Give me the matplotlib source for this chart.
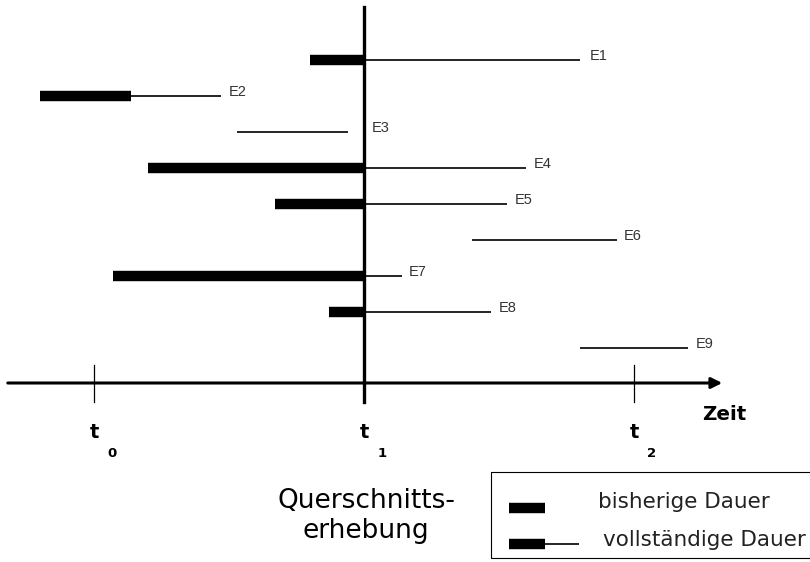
import matplotlib.pyplot as plt
from matplotlib.patches import Rectangle

# Episoden: Beginn, Ende der bisherigen Dauer (dicker Teil), Ende (Zeiteinheiten, t0=0, t1=1, t2=2)
episodes = ["E1", "E2", "E3", "E4", "E5", "E6", "E7", "E8", "E9"]
start = [0.80, -0.20, 0.53, 0.20, 0.67, 1.40, 0.07, 0.87, 1.80]
thick_end = [1.00, 0.137, None, 1.00, 1.00, None, 1.00, 1.00, None]
end = [1.80, 0.47, 0.94, 1.60, 1.53, 1.937, 1.14, 1.47, 2.20]
label_gap = [0.035, 0.03, 0.09, 0.03, 0.03, 0.025, 0.025, 0.03, 0.03]

time_points = [0, 1, 2]
time_labels = ["0", "1", "2"]


# Hilfsfunktionen: Pixelposition -> Datenkoordinaten (nur fürs Layout)
def X(px):
    return (px - 94) / 270


def Y(py):
    return (py - 60) / 36


fig = plt.figure(figsize=(8.1, 5.62), dpi=100)
ax = fig.add_axes([0, 0, 1, 1])
ax.set_xlim(X(0), X(810))
ax.set_ylim(Y(562), Y(0))
ax.axis("off")

axis_y = Y(383)

for i, name in enumerate(episodes):
    ax.plot([start[i], end[i]], [i, i], color="black", lw=1.2, solid_capstyle="butt")
    if thick_end[i] is not None:
        ax.plot([start[i], thick_end[i]], [i, i], color="black", lw=7.5, solid_capstyle="butt")
    ax.text(end[i] + label_gap[i], i - 0.1, name, fontsize=10.5, va="center", ha="left",
            family="Liberation Sans", color="#333333")

# Zeitachse mit Pfeil
ax.annotate("", xy=(X(725), axis_y), xytext=(X(5), axis_y),
            arrowprops=dict(arrowstyle="-|>", color="black", lw=2.2, mutation_scale=16))
# Querschnitt bei t1
ax.plot([1, 1], [Y(7), Y(402)], color="black", lw=2.4)
for t, lab in zip(time_points, time_labels):
    if t != 1:
        ax.plot([t, t], [Y(365), Y(402)], color="black", lw=0.9)
    ax.text(t, Y(438), "t", fontsize=14, fontweight="bold", ha="center", va="baseline")
    ax.text(t + 18 / 270, Y(457), lab, fontsize=9.5, fontweight="bold", ha="center",
            va="baseline")

ax.text(X(702), Y(420), "Zeit", fontsize=14.3, fontweight="bold", ha="left", va="baseline")
ax.text(X(366), Y(508), "Querschnitts-", fontsize=19, ha="center", va="baseline")
ax.text(X(366), Y(538), "erhebung", fontsize=19, ha="center", va="baseline")

# Legende
ax.add_patch(Rectangle((X(491), Y(472)), X(830) - X(491), Y(558) - Y(472), fill=False,
                       edgecolor="black", lw=0.8, clip_on=False))
ax.plot([X(509), X(545)], [Y(508), Y(508)], color="black", lw=7.5, solid_capstyle="butt")
ax.text(X(598), Y(508), "bisherige Dauer", fontsize=15.5, ha="left", va="baseline",
        color="#222222")
ax.plot([X(509), X(545)], [Y(544), Y(544)], color="black", lw=7.5, solid_capstyle="butt")
ax.plot([X(545), X(579)], [Y(544), Y(544)], color="black", lw=1.2, solid_capstyle="butt")
ax.text(X(603), Y(546), "vollständige Dauer", fontsize=15.5, ha="left", va="baseline",
        color="#222222")

fig.savefig("out.png", dpi=100)
